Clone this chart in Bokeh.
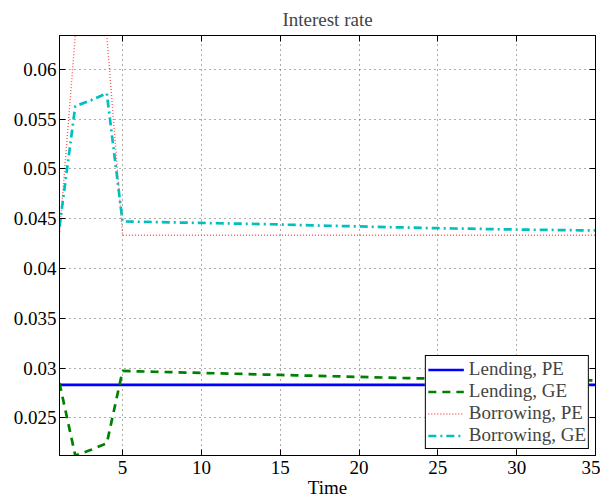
from bokeh.plotting import figure
from bokeh.models import Range1d, FixedTicker, LinearAxis, CustomJSTickFormatter, Legend, LegendItem
from bokeh.embed import file_html
from bokeh.resources import INLINE

time = list(range(1, 36))

lending_pe = [0.02833] * 35
lending_ge = [0.0285, 0.02123, 0.0218, 0.02245, 0.02972, 0.02968, 0.02964, 0.02960, 0.02956,
              0.02952, 0.02948, 0.02944, 0.02940, 0.02936, 0.02932, 0.02928, 0.02924, 0.02920,
              0.02916, 0.02912, 0.02908, 0.02904, 0.02900, 0.02897, 0.02894, 0.02891, 0.02889,
              0.02887, 0.02885, 0.02883, 0.02881, 0.02880, 0.02879, 0.02878, 0.02877]
borrowing_pe = [0.0434, 0.0634, 0.0634, 0.0634] + [0.04335] * 31
borrowing_ge = [0.0442, 0.0563, 0.0569, 0.0576, 0.04473, 0.04470, 0.04467, 0.04464, 0.04461,
                0.04458, 0.04455, 0.04452, 0.04449, 0.04446, 0.04442, 0.04438, 0.04434, 0.04430,
                0.04427, 0.04423, 0.04419, 0.04415, 0.04412, 0.04408, 0.04405, 0.04402, 0.04400,
                0.04397, 0.04394, 0.04392, 0.04390, 0.04388, 0.04386, 0.04384, 0.04383]

x_ticks = [5, 10, 15, 20, 25, 30, 35]
y_ticks = [0.025, 0.03, 0.035, 0.04, 0.045, 0.05, 0.055, 0.06]
labels = ["Lending, PE", "Lending, GE", "Borrowing, PE", "Borrowing, GE"]

FONT = "Liberation Serif"
FS = "19px"

p = figure(width=600, height=500, output_backend="svg", toolbar_location=None,
           x_range=Range1d(1, 35), y_range=Range1d(0.02123, 0.0634),
           title="Interest rate", x_axis_label="Time",
           min_border_left=59, min_border_right=5, min_border_top=35, min_border_bottom=42)

p.title.align = "center"
p.title.text_font = FONT
p.title.text_font_size = FS
p.title.text_font_style = "normal"
p.title.standoff = 12

p.outline_line_color = "black"
p.outline_line_alpha = 1
p.background_fill_color = "white"
p.border_fill_color = "white"

fmt = CustomJSTickFormatter(code="return tick.toString();")
blank = CustomJSTickFormatter(code="return '';")

bottom_ax = p.below[0]
left_ax = p.left[0]
bottom_ax.ticker = FixedTicker(ticks=x_ticks)
bottom_ax.formatter = fmt
left_ax.ticker = FixedTicker(ticks=y_ticks)
left_ax.formatter = fmt

top_ax = LinearAxis(ticker=FixedTicker(ticks=x_ticks), formatter=blank)
right_ax = LinearAxis(ticker=FixedTicker(ticks=y_ticks), formatter=blank)
p.add_layout(top_ax, "above")
p.add_layout(right_ax, "right")

for ax in [bottom_ax, left_ax, top_ax, right_ax]:
    ax.major_tick_in = 6
    ax.major_tick_out = 0
    ax.minor_tick_line_color = None
    ax.axis_line_color = "black"
    ax.major_tick_line_color = "black"
    ax.major_label_text_font = FONT
    ax.major_label_text_font_size = FS
    ax.major_label_text_font_style = "normal"
    ax.major_label_text_color = "black"
    ax.axis_label_text_font = FONT
    ax.axis_label_text_font_size = FS
    ax.axis_label_text_font_style = "normal"
    ax.axis_label_text_color = "black"
    ax.axis_label_standoff = 0

bottom_ax.major_label_standoff = 5
left_ax.major_label_standoff = 3
top_ax.major_label_standoff = 0
right_ax.major_label_standoff = 0

p.xgrid.ticker = FixedTicker(ticks=x_ticks)
p.ygrid.ticker = FixedTicker(ticks=y_ticks)
for g in [p.xgrid, p.ygrid]:
    g.grid_line_color = "#333333"
    g.grid_line_dash = "1 4"
    g.grid_line_width = 1
    g.grid_line_alpha = 0.8

r1 = p.line(time, lending_pe, line_color="#0000ff", line_width=2.7)
r2 = p.line(time, lending_ge, line_color="#008000", line_width=2.7, line_dash="8 6")
r3 = p.line(time, borrowing_pe, line_color="#ff3333", line_width=1.4, line_dash="1 2", line_alpha=0.8)
r4 = p.line(time, borrowing_ge, line_color="#00bfbf", line_width=2.7, line_dash="8 4 2 4")

legend = Legend(items=[LegendItem(label=l, renderers=[r]) for l, r in zip(labels, [r1, r2, r3, r4])],
                location="bottom_right", margin=6, padding=2, spacing=0,
                label_height=21, glyph_height=21, glyph_width=36, label_standoff=5,
                label_text_font=FONT, label_text_font_size=FS,
                border_line_color="black", border_line_width=1, border_line_alpha=1,
                background_fill_color="white", background_fill_alpha=1)
p.add_layout(legend, "center")

open("out.html", "w").write(file_html(p, INLINE))
